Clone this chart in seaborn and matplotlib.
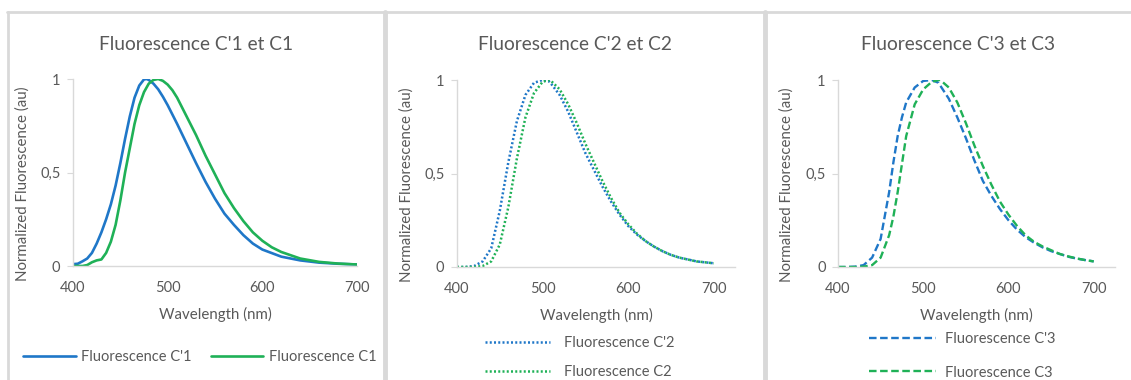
import numpy as np
import pandas as pd
import matplotlib
matplotlib.use("Agg")
import matplotlib.pyplot as plt
import seaborn as sns
from matplotlib.lines import Line2D

# wavelengths (nm) and normalized fluorescence
wl_1 = [400, 405, 410, 415, 420, 425, 430, 435, 440, 445, 450, 455, 460, 465, 470,
        475, 478, 480, 485, 490, 495, 500, 505, 510, 520, 530, 540, 550, 560, 570,
        580, 590, 600, 620, 640, 660, 680, 700]
c1_prime = [0.01, 0.012, 0.025, 0.04, 0.07, 0.12, 0.18, 0.25, 0.33, 0.43, 0.55, 0.68,
            0.8, 0.9, 0.965, 0.998, 1.0, 0.995, 0.975, 0.945, 0.905, 0.86, 0.81,
            0.76, 0.655, 0.55, 0.45, 0.36, 0.28, 0.22, 0.165, 0.12, 0.088, 0.05,
            0.03, 0.018, 0.012, 0.008]
wl_1b = [400, 410, 415, 420, 425, 430, 435, 440, 445, 450, 455, 460, 465, 470, 475,
         480, 485, 490, 495, 500, 505, 510, 520, 530, 540, 550, 560, 570, 580, 590,
         600, 610, 620, 640, 660, 680, 700]
c1 = [0.0, 0.0, 0.005, 0.02, 0.03, 0.035, 0.07, 0.13, 0.22, 0.35, 0.5, 0.63, 0.76,
      0.86, 0.93, 0.975, 0.995, 1.0, 0.99, 0.97, 0.94, 0.9, 0.8, 0.7, 0.59, 0.49,
      0.39, 0.31, 0.24, 0.18, 0.135, 0.1, 0.075, 0.04, 0.022, 0.013, 0.008]

wl_2 = [400, 410, 420, 430, 440, 450, 460, 470, 480, 490, 500, 507, 510, 520, 530,
        540, 550, 560, 570, 580, 590, 600, 610, 620, 630, 640, 650, 660, 670, 680,
        690, 700]
c2_prime = [0.0, 0.0, 0.005, 0.03, 0.1, 0.3, 0.56, 0.78, 0.92, 0.985, 1.0, 0.995,
            0.98, 0.92, 0.83, 0.72, 0.61, 0.52, 0.43, 0.35, 0.28, 0.22, 0.175, 0.14,
            0.11, 0.085, 0.065, 0.05, 0.04, 0.03, 0.025, 0.02]
c2 = [0.0, 0.0, 0.0, 0.005, 0.03, 0.12, 0.32, 0.58, 0.8, 0.93, 0.99, 1.0, 0.995,
      0.95, 0.87, 0.77, 0.66, 0.56, 0.46, 0.37, 0.29, 0.23, 0.18, 0.14, 0.11, 0.085,
      0.065, 0.05, 0.04, 0.03, 0.025, 0.02]

wl_3 = [400, 410, 420, 430, 440, 450, 460, 465, 470, 475, 480, 490, 500, 510, 518,
        520, 530, 540, 550, 560, 570, 580, 590, 600, 610, 620, 630, 640, 650, 660,
        670, 680, 690, 700]
c3_prime = [0.0, 0.0, 0.002, 0.01, 0.05, 0.15, 0.4, 0.56, 0.7, 0.8, 0.88, 0.96, 0.995,
            1.0, 0.985, 0.97, 0.9, 0.8, 0.69, 0.57, 0.46, 0.38, 0.31, 0.25, 0.2, 0.16,
            0.13, 0.105, 0.085, 0.07, 0.055, 0.045, 0.037, 0.03]
c3 = [0.0, 0.0, 0.0, 0.002, 0.01, 0.05, 0.17, 0.27, 0.4, 0.55, 0.7, 0.87, 0.95, 0.99,
      1.0, 1.0, 0.96, 0.88, 0.77, 0.65, 0.54, 0.44, 0.35, 0.28, 0.22, 0.17, 0.135,
      0.11, 0.09, 0.07, 0.057, 0.046, 0.037, 0.03]

titles = ["Fluorescence C'1 et C1", "Fluorescence C'2 et C2", "Fluorescence C'3 et C3"]
y_ticks = [0, 0.5, 1]
y_tick_labels = ["0", "0,5", "1"]
x_ticks = [400, 500, 600, 700]

BLUE = "#1f77c8"
GREEN = "#1fb157"
GREY = "#595959"
LIGHT = "#d9d9d9"

sns.set_theme(style="white")
plt.rcParams["font.family"] = ["Lato", "DejaVu Sans"]

W, H = 1131, 380
fig = plt.figure(figsize=(W / 100, H / 100), dpi=100)

def rect(l, r, t, b):
    return [l / W, (H - b) / H, (r - l) / W, (b - t) / H]

panels = [
    dict(rect=rect(73, 357, 79, 266), xmax=700, title_x=196, ylab_x=30,
         series=[(wl_1, c1_prime, "Fluorescence C'1", BLUE),
                 (wl_1b, c1, "Fluorescence C1", GREEN)],
         ls="-", lw=1.9, ncol=2, leg_xy=(200, 344), spacing=0.5, hl=3.6, htp=0.4),
    dict(rect=rect(457, 735, 80, 267), xmax=725, title_x=575, ylab_x=414,
         series=[(wl_2, c2_prime, "Fluorescence C'2", BLUE),
                 (wl_2, c2, "Fluorescence C2", GREEN)],
         ls=(0, (0.8, 0.9)), lw=1.8, ncol=1, leg_xy=(580, 330), spacing=1.05, hl=4.4, htp=1.0),
    dict(rect=rect(838, 1115, 80, 267), xmax=725, title_x=958, ylab_x=794,
         series=[(wl_3, c3_prime, "Fluorescence C'3", BLUE),
                 (wl_3, c3, "Fluorescence C3", GREEN)],
         ls=(0, (3.2, 1.5)), lw=1.7, ncol=1, leg_xy=(962, 326), spacing=1.35, hl=4.6, htp=0.6),
]

for i, p in enumerate(panels):
    ax = fig.add_axes(p["rect"])
    for wl, vals, name, col in p["series"]:
        df = pd.DataFrame({"wl": wl, "v": vals})
        sns.lineplot(data=df, x="wl", y="v", ax=ax, color=col, lw=p["lw"],
                     linestyle=p["ls"], label=name)
    ax.set_xlim(400, p["xmax"])
    ax.set_ylim(0, 1)
    ax.set_xticks(x_ticks)
    ax.set_yticks(y_ticks)
    ax.set_yticklabels(y_tick_labels)
    ax.tick_params(axis="x", length=0, pad=11, labelsize=10.5, labelcolor=GREY)
    ax.tick_params(axis="y", length=4, width=0.8, color=LIGHT, direction="out",
                   left=True, pad=5, labelsize=10.5, labelcolor=GREY)
    for s in ["top", "right"]:
        ax.spines[s].set_visible(False)
    for s in ["left", "bottom"]:
        ax.spines[s].set_color(LIGHT)
        ax.spines[s].set_linewidth(1.0)
    ax.set_xlabel("Wavelength (nm)", fontsize=10.8, color=GREY)
    ax.xaxis.set_label_coords(0.5, -0.22)
    ax.set_ylabel("Normalized Fluorescence (au)", fontsize=10.8, color=GREY)
    l, b, w, h = p["rect"]
    ax.yaxis.set_label_coords((p["ylab_x"] / W - l) / w, 0.44)
    fig.text(p["title_x"] / W, 1 - 45 / H, titles[i], ha="center", va="center",
             fontsize=13.8, color=GREY)
    ax.legend().remove()
    lx, ly = p["leg_xy"]
    fig.legend(*ax.get_legend_handles_labels(), loc="upper center",
               bbox_to_anchor=(lx / W, 1 - ly / H), ncol=p["ncol"], frameon=False,
               fontsize=10.5, labelcolor=GREY, handlelength=p["hl"],
               handletextpad=p["htp"], labelspacing=p["spacing"],
               columnspacing=1.3, borderaxespad=0)

# panel frames
fig.add_artist(Line2D([7 / W, 1], [1 - 12 / H] * 2, color=LIGHT, lw=2.0))
fig.add_artist(Line2D([8 / W] * 2, [0, 1 - 12 / H], color=LIGHT, lw=2.0))
for xs in [385, 765]:
    fig.add_artist(Line2D([xs / W] * 2, [0, 1 - 12 / H], color=LIGHT, lw=3.5))

fig.savefig("out.png", dpi=100)
